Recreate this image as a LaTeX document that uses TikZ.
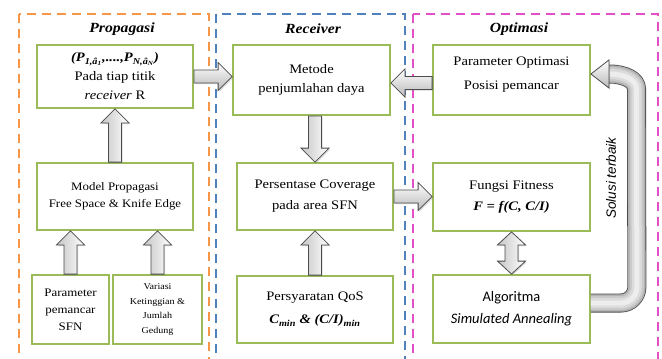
\documentclass[tikz,border=0pt]{standalone}
\usepackage{fontspec}
\setmainfont{Liberation Serif}[FakeStretch=1.12]
\newfontfamily\calfont{Carlito}
\newfontfamily\arialfont{Liberation Sans}
\usetikzlibrary{calc,shadows}

\definecolor{propcol}{RGB}{247,150,70}
\definecolor{rcvcol}{RGB}{79,129,189}
\definecolor{optcol}{RGB}{226,80,200}
\definecolor{boxgreen}{RGB}{155,187,89}

\tikzset{
	zoneframe/.style={line width=2.2pt, dash pattern=on 9pt off 6pt},
	zonetitle/.style={font=\fontsize{14}{16}\selectfont\bfseries\itshape},
	greenbox/.style={draw=boxgreen, line width=1.8pt, fill=white, align=center,
		inner sep=2pt, font=\fontsize{13}{19}\selectfont},
	barrow/.style={draw=black!70, line width=0.8pt,
		drop shadow={shadow xshift=1.2pt, shadow yshift=-1.2pt, opacity=0.3}},
	hshade/.style={top color=white, bottom color=gray!55},
	vshade/.style={left color=gray!45, right color=white},
}

% block arrow from #2 to #3
\newcommand{\blockarrow}[3][]{%
	\coordinate (ba-s) at (#2);
	\coordinate (ba-e) at (#3);
	\coordinate (ba-h) at ($(ba-e)!14pt!(ba-s)$);
	\path[barrow,#1] ($(ba-s)!6.5pt!90:(ba-e)$) -- ($(ba-h)!6.5pt!90:(ba-e)$) --
		($(ba-h)!14pt!90:(ba-e)$) -- (ba-e) -- ($(ba-h)!14pt!-90:(ba-e)$) --
		($(ba-h)!6.5pt!-90:(ba-e)$) -- ($(ba-s)!6.5pt!-90:(ba-e)$) -- cycle;
}
% block arrow with two heads
\newcommand{\dblarrow}[3][]{%
	\coordinate (ba-s) at (#2);
	\coordinate (ba-e) at (#3);
	\coordinate (ba-h) at ($(ba-e)!13pt!(ba-s)$);
	\coordinate (ba-g) at ($(ba-s)!13pt!(ba-e)$);
	\path[barrow,#1] (ba-s) -- ($(ba-g)!14pt!90:(ba-e)$) -- ($(ba-g)!6.5pt!90:(ba-e)$) --
		($(ba-h)!6.5pt!90:(ba-e)$) -- ($(ba-h)!14pt!90:(ba-e)$) -- (ba-e) --
		($(ba-h)!14pt!-90:(ba-e)$) -- ($(ba-h)!6.5pt!-90:(ba-e)$) --
		($(ba-g)!6.5pt!-90:(ba-e)$) -- ($(ba-g)!14pt!-90:(ba-e)$) -- cycle;
}

\begin{document}
\begin{tikzpicture}[x=1pt,y=-1pt]
	\clip (0,0) rectangle (662,359);
	\fill[white] (0,0) rectangle (662,359);

	% the three zones
	\draw[zoneframe, propcol] (19,14) rectangle (209,380);
	\draw[zoneframe, rcvcol] (216,14) rectangle (405,380);
	\draw[zoneframe, optcol] (413,14) rectangle (658,380);

	\node[zonetitle] (tprop) at (122,29) {Propagasi};
	\node[zonetitle] (trcv) at (313,29) {Receiver};
	\node[zonetitle] (topt) at (519,29) {Optimasi};

	% Propagasi
	\node[greenbox, minimum width=156pt, minimum height=63pt] (daya) at (115,76.5)
		{{\bfseries\itshape (P\textsubscript{1,â\textsubscript{1}},....,P\textsubscript{N,â\textsubscript{N}})}\\Pada tiap titik\\\textit{receiver} R};
	\node[greenbox, minimum width=156pt, minimum height=67pt, font=\fontsize{11.5}{17}\selectfont] (model) at (115,196.5)
		{Model Propagasi\\Free Space \& Knife Edge};
	\node[greenbox, minimum width=77pt, minimum height=69pt, font=\fontsize{11.5}{17}\selectfont] (param) at (70.5,309.5)
		{Parameter\\pemancar\\SFN};
	\node[greenbox, minimum width=89pt, minimum height=69pt, font=\fontsize{9}{14.5}\selectfont] (variasi) at (157.5,309.5)
		{Variasi\\Ketinggian \&\\Jumlah\\Gedung};

	% Receiver
	\node[greenbox, minimum width=157pt, minimum height=70pt] (metode) at (311.5,80)
		{Metode\\penjumlahan daya};
	\node[greenbox, minimum width=156pt, minimum height=67pt, font=\fontsize{13}{21}\selectfont] (persen) at (315,196.5)
		{Persentase Coverage\\pada area SFN};
	\node[greenbox, minimum width=156pt, minimum height=67pt, font=\fontsize{13}{23}\selectfont] (qos) at (315,309.5)
		{Persyaratan QoS\\{\bfseries\itshape C\textsubscript{min} \& (C/I)\textsubscript{min}}};

	% Optimasi
	\node[greenbox, minimum width=157pt, minimum height=70pt, font=\fontsize{13}{24}\selectfont, text depth=13pt] (popt) at (511.5,80)
		{Parameter Optimasi\\Posisi pemancar};
	\node[greenbox, minimum width=157pt, minimum height=68pt, font=\fontsize{13}{21}\selectfont] (fit) at (511.5,197)
		{Fungsi Fitness\\\textbf{\textit{F = f(C, C/I)}}};
	\node[greenbox, minimum width=157pt, minimum height=68pt, font=\calfont\fontsize{14.5}{22}\selectfont] (alg) at (511.5,309)
		{Algoritma\\\textit{Simulated Annealing}};

	% block arrows
	\coordinate (poptin) at ($(popt.west)+(0,3)$);
	\blockarrow[hshade]{daya.east}{daya.east -| metode.west}
	\blockarrow[hshade]{poptin}{poptin -| metode.east}
	\blockarrow[vshade]{persen.north |- metode.south}{persen.north}
	\blockarrow[hshade]{persen.east}{persen.east -| fit.west}
	\blockarrow[vshade]{qos.north}{persen.south}
	\blockarrow[vshade]{model.north}{daya.south}
	\blockarrow[vshade]{param.north}{param.north |- model.south}
	\blockarrow[vshade]{variasi.north}{variasi.north |- model.south}
	\dblarrow[vshade]{fit.south}{alg.north}

	% return arrow
	\coordinate (loopstart) at ($(alg.east)+(0,-6)$);
	\coordinate (loopcorner) at ($(loopstart)+(46,0)$);
	\coordinate (looptop) at (636.5,105);
	\coordinate (loophead) at ($(popt.east)+(18,-6)$);
	\foreach \w/\c in {19/black!70, 17.4/gray!60, 14/gray!42, 10/gray!28, 5/gray!14}
		\draw[line width=\w pt, \c, rounded corners=16pt] (loopstart) -- (loopcorner) -- (looptop)
			.. controls (636.5,80) and (625,74) .. (loophead);
	\path[barrow, hshade] ($(loophead)+(0,-14)$) -- ($(loophead)+(0,14)$) -- (popt.east |- loophead) -- cycle;
	\node[rotate=90, font=\arialfont\itshape\fontsize{13.5}{15}\selectfont] (solusi) at (611,178) {Solusi terbaik};
\end{tikzpicture}
\end{document}
